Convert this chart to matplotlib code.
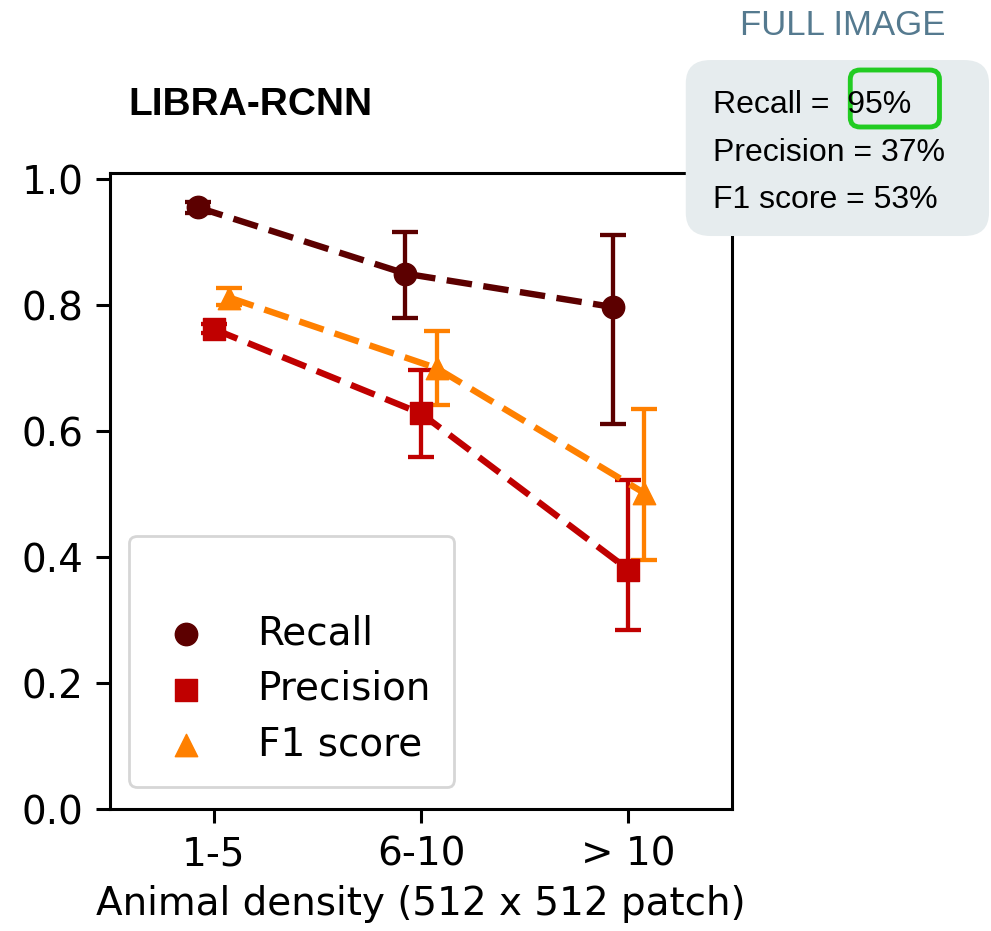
import matplotlib.pyplot as plt
from matplotlib.patches import FancyBboxPatch
from matplotlib import font_manager

categories = ["1-5", "6-10", "> 10"]

recall = [0.955, 0.850, 0.797]
recall_lo = [0.946, 0.780, 0.611]
recall_hi = [0.963, 0.916, 0.912]

precision = [0.762, 0.628, 0.380]
precision_lo = [0.755, 0.559, 0.285]
precision_hi = [0.770, 0.697, 0.523]

f1 = [0.812, 0.700, 0.502]
f1_lo = [0.800, 0.641, 0.396]
f1_hi = [0.827, 0.759, 0.635]

summary = ["Recall =  95%", "Precision = 37%", "F1 score = 53%"]

names = sorted({f.name for f in font_manager.fontManager.ttflist})
narrow = "Liberation Sans Narrow" in names

fig = plt.figure(figsize=(9.91, 9.31), dpi=100)
ax = fig.add_axes([0.111, 0.131, 0.6277, 0.683])

series = [
    ("Recall", recall, recall_lo, recall_hi, "#5c0000", "o", -0.075),
    ("Precision", precision, precision_lo, precision_hi, "#c00000", "s", 0.0),
    ("F1 score", f1, f1_lo, f1_hi, "#ff8000", "^", 0.075),
]

handles = []
for name, vals, lo, hi, col, mk, off in series:
    xs = [i + off for i in range(len(vals))]
    err = [[v - l for v, l in zip(vals, lo)], [h - v for v, h in zip(vals, hi)]]
    ax.errorbar(xs, vals, yerr=err, fmt="none", ecolor=col, elinewidth=3.1,
                capsize=9.7, capthick=3.1, zorder=2)
    ax.plot(xs, vals, "--", color=col, lw=4.6, dashes=(4, 1.8), zorder=3)
    h = ax.scatter(xs, vals, marker=mk, s=260, color=col, zorder=4, label=name)
    handles.append(h)

ax.set_xlim(-0.5, 2.5)
ax.set_ylim(0, 1.0095)
ax.set_xticks(range(len(categories)))
ax.set_xticklabels(categories)
ax.set_yticks([0, 0.2, 0.4, 0.6, 0.8, 1.0])
ax.tick_params(labelsize=28, width=2.2, length=10, pad=9)
for s in ax.spines.values():
    s.set_linewidth(2.2)
ax.set_xlabel("Animal density (512 x 512 patch)", fontsize=28, labelpad=8)

leg = ax.legend(handles=handles, loc="lower left", fontsize=28, title=" ",
                title_fontsize=28, frameon=True, borderpad=0.6, borderaxespad=0,
                handlelength=1.7, handletextpad=1.0, labelspacing=0.45,
                bbox_to_anchor=(0.031, 0.035))
leg.get_frame().set_linewidth(2)

fig.text(0.13, 0.887, "LIBRA-RCNN", fontsize=28, fontweight="bold",
         family="Liberation Sans", va="center", ha="left")

if narrow:
    side_font, side_size, head_size = "Liberation Sans Narrow", 27, 29
else:
    side_font, side_size, head_size = "Liberation Sans", 23, 25

fig.text(0.850, 0.973, "FULL IMAGE", fontsize=head_size, color="#557a8f",
         family=side_font, va="center", ha="center")

box = FancyBboxPatch((0.692, 0.7465), 0.306, 0.189, boxstyle="round,pad=0,rounding_size=0.025",
                     transform=fig.transFigure, facecolor="#e6ecee", edgecolor="none")
fig.patches.append(box)
for i, t in enumerate(summary):
    fig.text(0.719, 0.8868 - i * 0.051, t, fontsize=side_size, family=side_font,
             va="center", ha="left")
hl = FancyBboxPatch((0.858, 0.8636), 0.090, 0.0612, boxstyle="round,pad=0,rounding_size=0.01",
                    transform=fig.transFigure, facecolor="none", edgecolor="#22cc22", lw=3.5)
fig.patches.append(hl)

fig.savefig("out.png", dpi=100)
